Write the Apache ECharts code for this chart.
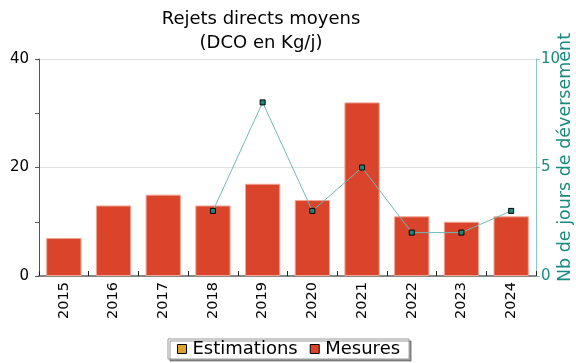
<!DOCTYPE html>
<html>
<head>
<meta charset="utf-8">
<script src="https://cdn.jsdelivr.net/npm/echarts@6/dist/echarts.min.js"></script>
<style>
html,body{margin:0;padding:0;background:#fff;}
#chart{width:576px;height:363px;}
</style>
</head>
<body>
<div id="chart"></div>
<script>
// Années
var years = ['2015','2016','2017','2018','2019','2020','2021','2022','2023','2024'];
// Rejets mesurés (DCO en Kg/j)
var mesures = [7, 13, 15, 13, 17, 14, 32, 11, 10, 11];
// Rejets estimés (aucune valeur)
var estimations = [null, null, null, null, null, null, null, null, null, null];
// Nombre de jours de déversement
var joursDeversement = [null, null, null, 3, 8, 3, 5, 2, 2, 3];

var FONT = 'DejaVu Sans';
var TEAL = '#1a8a7e';

var chart = echarts.init(document.getElementById('chart'), null, {renderer: 'canvas'});
chart.setOption({
  animation: false,
  textStyle: {fontFamily: FONT},
  title: {
    text: 'Rejets directs moyens\n(DCO en Kg/j)',
    left: 256, top: 2, textAlign: 'center',
    textStyle: {fontFamily: FONT, fontSize: 18, fontWeight: 'normal', color: '#000', lineHeight: 24}
  },
  legend: {
    data: ['Estimations', 'Mesures'],
    bottom: 4,
    left: 168,
    padding: [1, 9, 1, 9],
    itemGap: 12,
    itemWidth: 9, itemHeight: 9,
    borderColor: '#999', borderWidth: 1,
    backgroundColor: '#fff',
    shadowColor: 'rgba(0,0,0,0.4)', shadowBlur: 0, shadowOffsetX: 2, shadowOffsetY: 2,
    icon: 'rect',
    itemStyle: {borderColor: '#000', borderWidth: 1},
    textStyle: {fontFamily: FONT, fontSize: 18, color: '#000', padding: [0, 0, 0, 1]}
  },
  grid: {left: 39, right: 40, top: 59, bottom: 87, containLabel: false, outerBoundsMode: 'none'},
  xAxis: {
    type: 'category',
    data: years,
    axisLine: {lineStyle: {color: '#888', width: 2}},
    axisTick: {show: true, inside: true, length: 5, lineStyle: {color: '#222'}},
    axisLabel: {rotate: 90, fontFamily: FONT, fontSize: 14.5, color: '#000', margin: 6}
  },
  yAxis: [{
    type: 'value', min: 0, max: 40, interval: 20,
    axisLine: {show: true, lineStyle: {color: '#555'}},
    axisTick: {show: true, length: 4, lineStyle: {color: '#555'}},
    minorTick: {show: true, splitNumber: 2, length: 4, lineStyle: {color: '#555'}},
    splitLine: {show: true, lineStyle: {color: '#e2e2e2'}},
    axisLabel: {fontFamily: FONT, fontSize: 15, color: '#000', margin: 10}
  }, {
    type: 'value', min: 0, max: 10, interval: 5,
    position: 'right',
    name: 'Nb de jours de déversement',
    nameLocation: 'middle', nameRotate: 90, nameGap: 20,
    nameMoveOverlap: false,
    nameTextStyle: {fontFamily: FONT, fontSize: 17.5, color: TEAL, padding: [0, 0, 0, 20]},
    axisLine: {show: true, lineStyle: {color: '#8cc8c2'}},
    axisTick: {show: true, length: 4, lineStyle: {color: '#8cc8c2'}},
    splitLine: {show: false},
    axisLabel: {fontFamily: FONT, fontSize: 15, color: TEAL, margin: 5}
  }],
  series: [{
    name: 'Estimations', type: 'bar', stack: 'rejets',
    data: estimations, barWidth: '71%',
    itemStyle: {color: '#e0a030'}
  }, {
    name: 'Mesures', type: 'bar', stack: 'rejets',
    data: mesures, barWidth: '71%',
    itemStyle: {color: '#d9442b', borderColor: '#f0a595', borderWidth: 1}
  }, {
    name: 'Jours', type: 'line', yAxisIndex: 1,
    data: joursDeversement,
    symbol: 'rect', symbolSize: 5,
    lineStyle: {color: '#72b8b6', width: 1},
    itemStyle: {color: '#1a8a7e', borderColor: '#000', borderWidth: 1},
    z: 5
  }]
});
</script>
</body>
</html>
